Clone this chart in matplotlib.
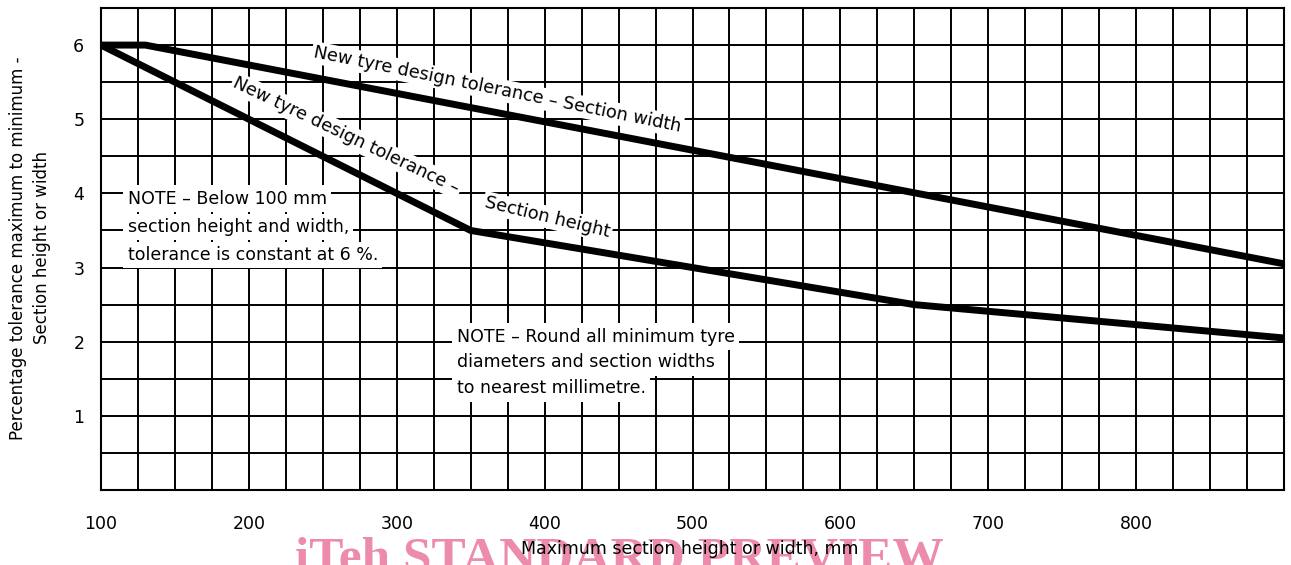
import numpy as np
import matplotlib
matplotlib.use("Agg")
import matplotlib.pyplot as plt

# Section width tolerance curve
width_x = [100, 130, 900]
width_y = [6.0, 6.0, 3.05]

# Section height tolerance curve
height_x = [100, 350, 650, 900]
height_y = [6.0, 3.5, 2.5, 2.05]

x_ticks = [100, 200, 300, 400, 500, 600, 700, 800]
y_ticks = [1, 2, 3, 4, 5, 6]

note_below = ["NOTE \u2013 Below 100 mm",
              "section height and width,",
              "tolerance is constant at 6 %."]
note_round = ["NOTE \u2013 Round all minimum tyre",
              "diameters and section widths",
              "to nearest millimetre."]

plt.rcParams['font.family'] = ['DejaVu Sans']
fs = 12.5

fig = plt.figure(figsize=(12.91, 5.65), dpi=100)
ax = fig.add_axes([101 / 1291, 1 - 490 / 565, 1183 / 1291, 482 / 565])
ax.set_xlim(100, 900)
ax.set_ylim(0, 6.5)

# grid every 25 mm and 0.5 %
ax.set_xticks(np.arange(100, 901, 25), minor=True)
ax.set_yticks(np.arange(0, 6.51, 0.5), minor=True)
ax.set_xticks(x_ticks)
ax.set_yticks(y_ticks)
ax.grid(which='both', color='black', linewidth=1.4)
ax.set_axisbelow(True)
ax.tick_params(which='both', length=0)
ax.tick_params(axis='x', pad=18, labelsize=fs)
ax.tick_params(axis='y', pad=12, labelsize=fs)
for s in ax.spines.values():
    s.set_linewidth(1.5)

ax.plot(width_x, width_y, color='black', linewidth=5, solid_joinstyle='round',
        solid_capstyle='round', zorder=4)
ax.plot(height_x, height_y, color='black', linewidth=5, solid_joinstyle='round',
        solid_capstyle='round', zorder=4)

box = dict(facecolor='white', edgecolor='none', pad=1.5)
ax.text(368, 5.4, "New tyre design tolerance \u2013 Section width", rotation=-11.5,
        ha='center', va='center', fontsize=fs + 0.3, bbox=box, zorder=5,
        rotation_mode='anchor')
ax.text(266, 4.78, "New tyre design tolerance \u2013", rotation=-25.5,
        ha='center', va='center', fontsize=fs + 0.3, bbox=box, zorder=5,
        rotation_mode='anchor')
ax.text(402, 3.68, "Section height", rotation=-13.5,
        ha='center', va='center', fontsize=fs + 0.3, bbox=box, zorder=5,
        rotation_mode='anchor')

for i, line in enumerate(note_below):
    ax.text(118, 3.93 - i * 0.38, line, ha='left', va='center', fontsize=fs,
            bbox=dict(facecolor='white', edgecolor='none', pad=3), zorder=5)
for i, line in enumerate(note_round):
    ax.text(340.5, 2.07 - i * 0.35, line, ha='left', va='center', fontsize=fs,
            bbox=dict(facecolor='white', edgecolor='none', pad=3), zorder=5)

# watermark from the scanned source
fig.text(295 / 1291, 1 - 537 / 565, "iTeh STANDARD PREVIEW", color='#ec8bac',
         fontsize=37, fontweight='bold', family='Liberation Serif',
         ha='left', va='top', zorder=-1)

fig.text(690 / 1291, 1 - 549 / 565, "Maximum section height or width, mm",
         ha='center', va='center', fontsize=fs)
fig.text(30 / 1291, 1 - 248 / 565,
         "Percentage tolerance maximum to minimum -\nSection height or width",
         rotation=90, ha='center', va='center', multialignment='center',
         fontsize=12, linespacing=1.45)

fig.savefig("out.png", dpi=100)
